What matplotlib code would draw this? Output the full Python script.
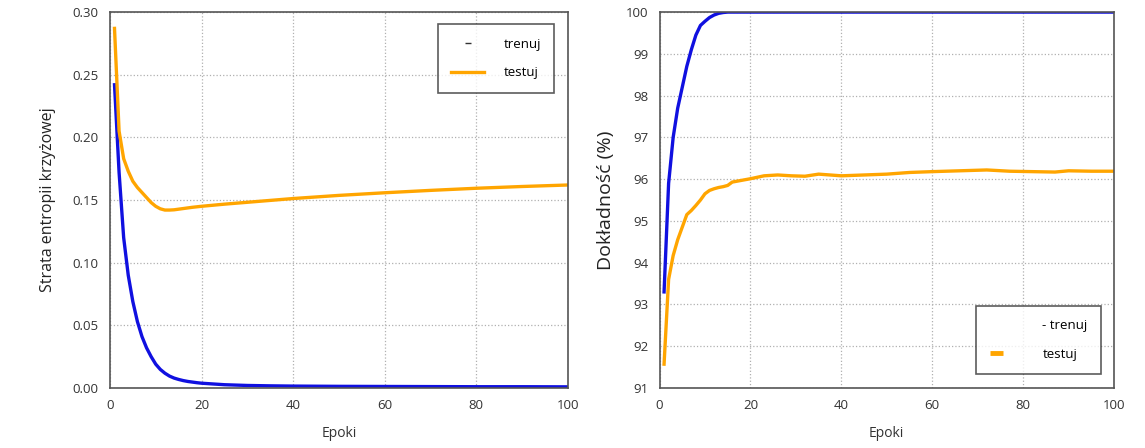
import matplotlib
matplotlib.use("Agg")
import matplotlib.pyplot as plt
from matplotlib.lines import Line2D

plt.rcParams['font.family'] = ['Open Sans', 'DejaVu Sans']

# loss curves (epoch, value)
loss_epochs = [1, 2, 3, 4, 5, 6, 7, 8, 9, 10, 11, 12, 13, 14, 15, 16, 17, 18, 19, 20,
               25, 30, 35, 40, 50, 60, 70, 80, 90, 100]
train_loss = [0.242, 0.172, 0.120, 0.090, 0.069, 0.053, 0.041, 0.032, 0.025, 0.019,
              0.0148, 0.0118, 0.0095, 0.0079, 0.0068, 0.0059, 0.0052, 0.0047, 0.0042, 0.0038,
              0.0026, 0.0020, 0.0017, 0.0015, 0.0013, 0.0012, 0.0011, 0.0010, 0.0010, 0.0009]
test_loss = [0.287, 0.205, 0.183, 0.173, 0.165, 0.160, 0.156, 0.152, 0.148, 0.145,
             0.143, 0.142, 0.142, 0.1422, 0.1427, 0.1432, 0.1437, 0.1442, 0.1446, 0.145,
             0.1467, 0.1482, 0.1497, 0.1512, 0.1537, 0.1558, 0.1577, 0.1594, 0.1608, 0.1620]

# accuracy curves (%)
acc_epochs = [1, 2, 3, 4, 5, 6, 7, 8, 9, 10, 11, 12, 13, 14, 15, 16, 18, 20, 23, 26,
              29, 32, 35, 40, 45, 50, 55, 60, 66, 72, 77, 82, 87, 90, 95, 100]
train_acc = [93.3, 95.9, 97.0, 97.7, 98.2, 98.7, 99.1, 99.45, 99.68, 99.78,
             99.87, 99.93, 99.97, 99.99, 100, 100, 100, 100, 100, 100,
             100, 100, 100, 100, 100, 100, 100, 100, 100, 100, 100, 100, 100, 100, 100, 100]
test_acc = [91.57, 93.6, 94.17, 94.55, 94.85, 95.15, 95.25, 95.37, 95.5, 95.65,
            95.73, 95.77, 95.8, 95.82, 95.85, 95.93, 95.97, 96.01, 96.08, 96.1,
            96.08, 96.07, 96.12, 96.08, 96.1, 96.12, 96.16, 96.18, 96.2, 96.22,
            96.19, 96.18, 96.17, 96.2, 96.19, 96.19]

blue = '#1010e0'
orange = '#ffa500'
grid_kw = dict(color='#b0b0b0', linestyle=':', linewidth=0.9)

fig = plt.figure(figsize=(11.45, 4.48), dpi=100)
ax1 = fig.add_axes([0.096, 0.134, 0.400, 0.839])
ax2 = fig.add_axes([0.576, 0.134, 0.397, 0.839])

for ax in (ax1, ax2):
    ax.grid(True, **grid_kw)
    ax.tick_params(length=0, labelsize=9.5, colors='#333333', pad=8)
    for s in ax.spines.values():
        s.set_color('#555555')
        s.set_linewidth(1.2)
    ax.set_xlim(0, 100)
    ax.set_xticks([0, 20, 40, 60, 80, 100])
    ax.set_xlabel('Epoki', fontsize=10, color='#333333', labelpad=10)

# left: loss
ax1.plot(loss_epochs, train_loss, color=blue, lw=2.4)
ax1.plot(loss_epochs, test_loss, color=orange, lw=2.4)
ax1.set_ylim(0, 0.30)
ax1.set_yticks([0.0, 0.05, 0.10, 0.15, 0.20, 0.25, 0.30])
ax1.set_yticklabels(['0.00', '0.05', '0.10', '0.15', '0.20', '0.25', '0.30'])
ax1.set_ylabel('Strata entropii krzyżowej', fontsize=11.5, color='#222222', labelpad=12)
h1 = [Line2D([], [], color='#333333', marker='_', markersize=4, linestyle='none'),
      Line2D([], [], color=orange, lw=2.4)]
leg1 = ax1.legend(h1, ['trenuj', 'testuj'], loc='upper right', fontsize=9.5,
                  frameon=True, fancybox=False, borderpad=1.0, labelspacing=1.2,
                  handlelength=2.5, handletextpad=1.5, bbox_to_anchor=(0.985, 0.985))
leg1.get_frame().set_edgecolor('#333333')
leg1.get_frame().set_linewidth(1.2)

# right: accuracy
ax2.plot(acc_epochs, train_acc, color=blue, lw=2.4)
ax2.plot(acc_epochs, test_acc, color=orange, lw=2.4)
ax2.set_ylim(91, 100)
ax2.set_yticks(range(91, 101))
ax2.set_ylabel('Dokładność (%)', fontsize=14, color='#222222', labelpad=8)
h2 = [Line2D([], [], color='none'),
      Line2D([], [], color=orange, lw=3.5, solid_capstyle='butt')]
leg2 = ax2.legend(h2, ['- trenuj', 'testuj'], loc='lower right', fontsize=9.5,
                  frameon=True, fancybox=False, borderpad=1.0, labelspacing=1.2,
                  handlelength=1.0, handletextpad=3.0, bbox_to_anchor=(0.985, 0.02))
leg2.get_frame().set_edgecolor('#333333')
leg2.get_frame().set_linewidth(1.2)

fig.savefig('out.png', dpi=100)
